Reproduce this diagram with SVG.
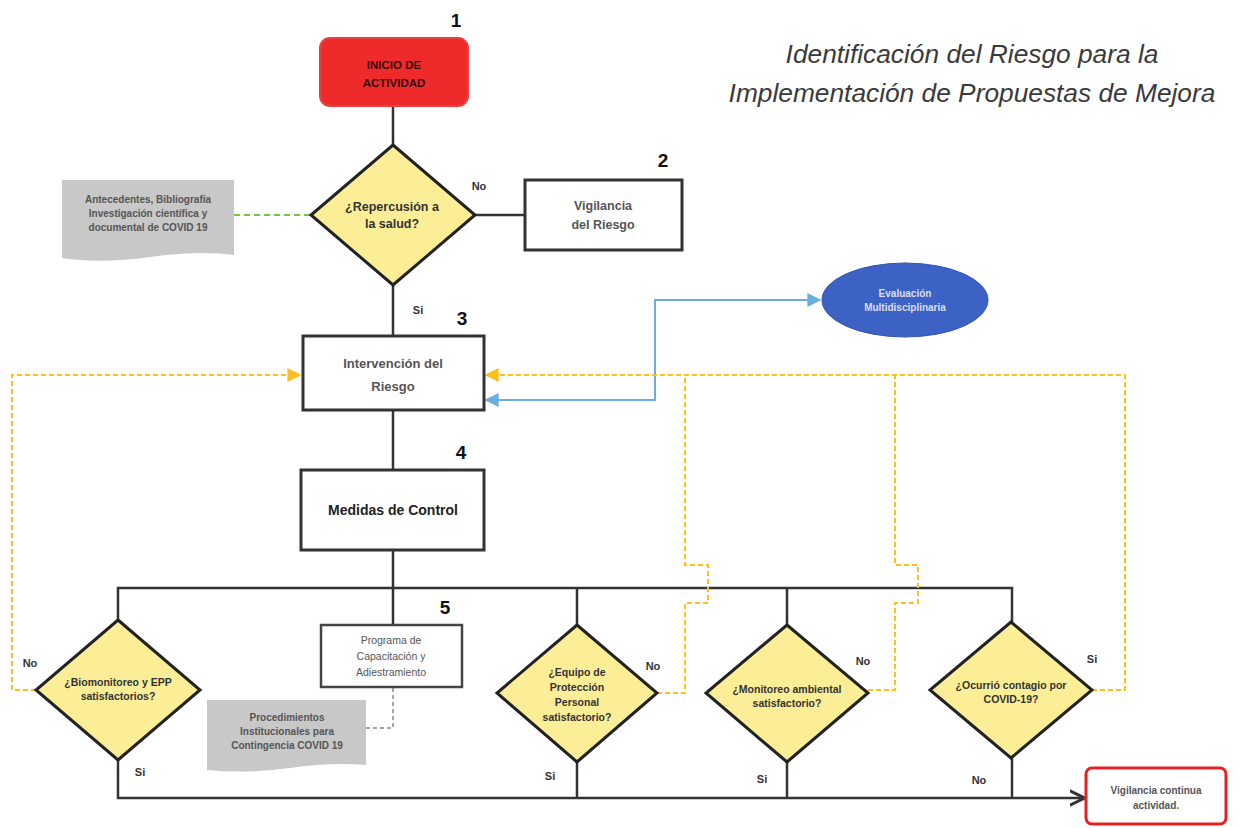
<svg xmlns="http://www.w3.org/2000/svg" width="1239" height="828" viewBox="0 0 1239 828">
<defs>
<style>
.t{font-family:"Liberation Sans",Arial,sans-serif;font-weight:bold;text-anchor:middle}
.n{font-family:"Liberation Sans",Arial,sans-serif;font-size:19px;font-weight:bold;fill:#111;text-anchor:middle}
.lb{font-family:"Liberation Sans",Arial,sans-serif;font-size:11px;font-weight:bold;fill:#333;text-anchor:middle}
.dia{fill:#fcee97;stroke:#222;stroke-width:3}
.box{fill:#fff;stroke:#333;stroke-width:3}
.doc{fill:#c8c8c8}
.ln{fill:none;stroke:#333;stroke-width:2.5}
.or{fill:none;stroke:#ffbf1f;stroke-width:2;stroke-dasharray:5,3}
.bl{fill:none;stroke:#6aaee0;stroke-width:2}
.gr{fill:none;stroke:#7cc242;stroke-width:2;stroke-dasharray:6,4}
.gy{fill:none;stroke:#888;stroke-width:1.5;stroke-dasharray:4,3}
</style>
<marker id="ao" viewBox="0 0 10 10" refX="9" refY="5" markerWidth="7" markerHeight="7" orient="auto-start-reverse"><path d="M0,0 L10,5 L0,10 z" fill="#ffbf1f"/></marker>
<marker id="ab" viewBox="0 0 10 10" refX="9" refY="5" markerWidth="7" markerHeight="7" orient="auto-start-reverse"><path d="M0,0 L10,5 L0,10 z" fill="#6aaee0"/></marker>
<marker id="ak" viewBox="0 0 10 10" refX="9" refY="5" markerWidth="6" markerHeight="8" orient="auto"><path d="M0,0 L10,5 L0,10" fill="none" stroke="#333" stroke-width="2"/></marker>
</defs>
<rect width="1239" height="828" fill="#fff"/>

<g id="title" font-family="Liberation Sans, Arial, sans-serif" font-size="26.3" font-style="italic" fill="#3a3a3a" text-anchor="middle">
<text x="972" y="63">Identificación del Riesgo para la</text>
<text x="972" y="102">Implementación de Propuestas de Mejora</text>
</g>

<g id="connectors">
<path class="ln" d="M393,107 V145"/>
<path class="ln" d="M393,285 V335"/>
<path class="ln" d="M475,215 H524"/>
<path class="ln" d="M393,410 V470"/>
<path class="ln" d="M393,550 V625"/>
<path class="ln" d="M118,620 V588 H1012 V622"/>
<path class="ln" d="M577,588 V625"/>
<path class="ln" d="M787,588 V625"/>
<path class="ln" d="M118,760 V798 H1083" marker-end="url(#ak)"/>
<path class="ln" d="M577,762 V798"/>
<path class="ln" d="M787,762 V798"/>
<path class="ln" d="M1012,758 V798"/>
<path class="gr" d="M234,215 H310"/>
<path class="gy" d="M366,728 H393 V687"/>
<path class="bl" d="M486,400 H655 V300 H820" marker-start="url(#ab)" marker-end="url(#ab)"/>
<path class="or" d="M36,690 H12 V375 H300" marker-end="url(#ao)"/>
<path class="or" d="M1092,690 H1125 V375 H486" marker-end="url(#ao)"/>
<path class="or" d="M657,693 H685 V603 H708 V565 H685 V375"/>
<path class="or" d="M868,690 H895 V603 H918 V565 H895 V375"/>
</g>

<g id="labels">
<text class="n" x="456" y="27">1</text>
<text class="n" x="663" y="167">2</text>
<text class="n" x="462" y="325">3</text>
<text class="n" x="461" y="459">4</text>
<text class="n" x="445" y="614">5</text>
<text class="lb" x="479" y="190">No</text>
<text class="lb" x="418" y="314">Si</text>
<text class="lb" x="30" y="667">No</text>
<text class="lb" x="140" y="776">Si</text>
<text class="lb" x="653" y="670">No</text>
<text class="lb" x="550" y="780">Si</text>
<text class="lb" x="863" y="665">No</text>
<text class="lb" x="762" y="783">Si</text>
<text class="lb" x="1092" y="663">Si</text>
<text class="lb" x="979" y="784">No</text>
</g>

<g id="start">
<rect x="320" y="38" width="148" height="68" rx="10" fill="#ee2a2a" stroke="#e84040" stroke-width="2"/>
<text class="t" x="394" y="69" style="font-size:11.5px;fill:#3a0a0a">INICIO DE</text>
<text class="t" x="394" y="87" style="font-size:11.5px;fill:#3a0a0a">ACTIVIDAD</text>
</g>

<g id="repercusion">
<polygon class="dia" points="393,145 475,215 393,285 311,215"/>
<text class="t" x="392" y="211" style="font-size:12.5px;fill:#333">¿Repercusión a</text>
<text class="t" x="392" y="228" style="font-size:12.5px;fill:#333">la salud?</text>
</g>

<g id="antecedentes">
<path class="doc" d="M62,180 H234 V255 Q200,250 150,257 Q100,264 62,258 Z"/>
<text class="t" x="148" y="203" style="font-size:10px;fill:#555">Antecedentes, Bibliografía</text>
<text class="t" x="148" y="217" style="font-size:10px;fill:#555">Investigación científica y</text>
<text class="t" x="148" y="231" style="font-size:10px;fill:#555">documental de COVID 19</text>
</g>

<g id="vigilancia">
<rect class="box" x="525" y="180" width="157" height="70"/>
<text class="t" x="603" y="210" style="font-size:12.5px;fill:#555">Vigilancia</text>
<text class="t" x="603" y="229" style="font-size:12.5px;fill:#555">del Riesgo</text>
</g>

<g id="evaluacion">
<ellipse cx="905" cy="300" rx="83" ry="37" fill="#3b62c4" stroke="#2f55b0" stroke-width="1"/>
<text class="t" x="905" y="297" style="font-size:10px;fill:#dde">Evaluación</text>
<text class="t" x="905" y="311" style="font-size:10px;fill:#dde">Multidisciplinaria</text>
</g>

<g id="intervencion">
<rect class="box" x="303" y="336" width="181" height="74"/>
<text class="t" x="393" y="368" style="font-size:13px;fill:#555">Intervención del</text>
<text class="t" x="393" y="391" style="font-size:13px;fill:#555">Riesgo</text>
</g>

<g id="medidas">
<rect class="box" x="301" y="470" width="183" height="80"/>
<text class="t" x="393" y="515" style="font-size:14px;fill:#222">Medidas de Control</text>
</g>

<g id="programa">
<rect x="321" y="625" width="141" height="62" fill="#fff" stroke="#444" stroke-width="2.5"/>
<text class="t" x="391" y="644" style="font-size:10.5px;font-weight:normal;fill:#555">Programa de</text>
<text class="t" x="391" y="660" style="font-size:10.5px;font-weight:normal;fill:#555">Capacitación y</text>
<text class="t" x="391" y="676" style="font-size:10.5px;font-weight:normal;fill:#555">Adiestramiento</text>
</g>

<g id="procedimientos">
<path class="doc" d="M207,700 H366 V765 Q330,762 290,768 Q245,774 207,770 Z"/>
<text class="t" x="287" y="721" style="font-size:10px;fill:#555">Procedimientos</text>
<text class="t" x="287" y="735" style="font-size:10px;fill:#555">Institucionales para</text>
<text class="t" x="287" y="749" style="font-size:10px;fill:#555">Contingencia  COVID 19</text>
</g>

<g id="biomonitoreo">
<polygon class="dia" points="118,620 200,690 118,760 36,690"/>
<text class="t" x="118" y="686" style="font-size:10.5px;fill:#333">¿Biomonitoreo y EPP</text>
<text class="t" x="118" y="700" style="font-size:10.5px;fill:#333">satisfactorios?</text>
</g>

<g id="equipo">
<polygon class="dia" points="577,625 657,693 577,762 497,693"/>
<text class="t" x="577" y="676" style="font-size:10.5px;fill:#333">¿Equipo de</text>
<text class="t" x="577" y="691" style="font-size:10.5px;fill:#333">Protección</text>
<text class="t" x="577" y="706" style="font-size:10.5px;fill:#333">Personal</text>
<text class="t" x="577" y="721" style="font-size:10.5px;fill:#333">satisfactorio?</text>
</g>

<g id="monitoreo">
<polygon class="dia" points="787,625 868,693 787,762 706,693"/>
<text class="t" x="787" y="693" style="font-size:10.5px;fill:#333">¿Monitoreo ambiental</text>
<text class="t" x="787" y="707" style="font-size:10.5px;fill:#333">satisfactorio?</text>
</g>

<g id="contagio">
<polygon class="dia" points="1011,622 1092,690 1011,758 930,690"/>
<text class="t" x="1011" y="689" style="font-size:10.5px;fill:#333">¿Ocurrió contagio por</text>
<text class="t" x="1011" y="703" style="font-size:10.5px;fill:#333">COVID-19?</text>
</g>

<g id="vigilancia-continua">
<rect x="1086" y="768" width="140" height="56" rx="6" fill="#fff" stroke="#e52020" stroke-width="3"/>
<text class="t" x="1156" y="794" style="font-size:10px;fill:#555">Vigilancia continua</text>
<text class="t" x="1156" y="809" style="font-size:10px;fill:#555">actividad.</text>
</g>
</svg>
